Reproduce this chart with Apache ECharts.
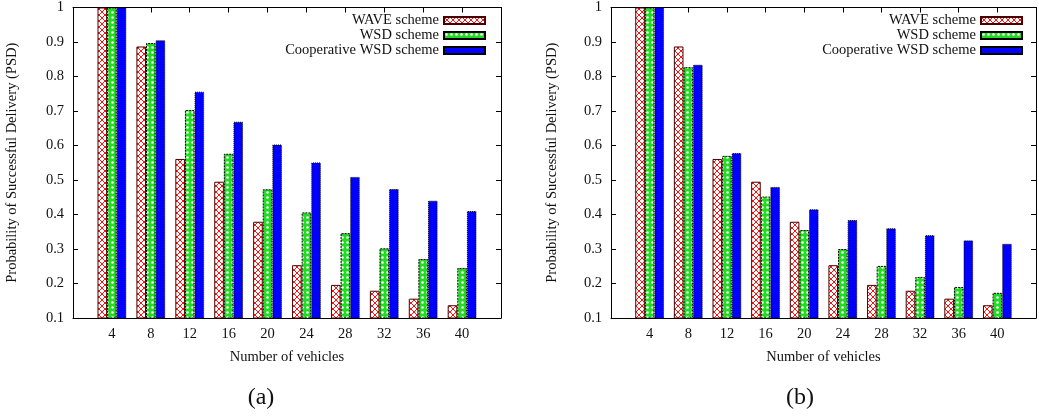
<!DOCTYPE html>
<html>
<head>
<meta charset="utf-8">
<title>Probability of Successful Delivery</title>
<script src="https://cdn.jsdelivr.net/npm/echarts@6/dist/echarts.min.js"></script>
<style>
  html, body { margin: 0; padding: 0; background: #fff; }
  #chart { width: 1039px; height: 416px; }
</style>
</head>
<body>
<div id="chart"></div>
<script>
// Number of vehicles on the x axis
const vehicles = [4, 8, 12, 16, 20, 24, 28, 32, 36, 40];

// Panel (a)
const waveA = [1.0, 0.887, 0.561, 0.495, 0.379, 0.253, 0.196, 0.179, 0.156, 0.137];
const wsdA  = [1.0, 0.897, 0.703, 0.576, 0.473, 0.406, 0.346, 0.302, 0.271, 0.245];
const coopA = [1.0, 0.905, 0.756, 0.669, 0.603, 0.551, 0.509, 0.474, 0.440, 0.410];

// Panel (b)
const waveB = [1.0, 0.887, 0.561, 0.495, 0.379, 0.253, 0.196, 0.179, 0.156, 0.137];
const wsdB  = [1.0, 0.827, 0.570, 0.452, 0.355, 0.300, 0.251, 0.219, 0.190, 0.173];
const coopB = [1.0, 0.834, 0.578, 0.480, 0.415, 0.384, 0.360, 0.340, 0.325, 0.315];

const seriesNames = ['WAVE scheme', 'WSD scheme', 'Cooperative WSD scheme'];
const panelLabels = ['(a)', '(b)'];
const yTitle = 'Probability of Successful Delivery (PSD)';
const xTitle = 'Number of vehicles';
const yMin = 0.1, yMax = 1, yStep = 0.1;

const FONT = '"Liberation Serif", "DejaVu Serif", serif';
const INK = '#111';

// Padded category list: empty slots at both ends give the half-gap margins
const categories = [''].concat(vehicles.map(String), ['']);
const pad = arr => ['-'].concat(arr, ['-']);

// Fill patterns
function makeTile(w, h, draw) {
  const c = document.createElement('canvas');
  c.width = w; c.height = h;
  draw(c.getContext('2d'), w, h);
  return c;
}
const crossTile = makeTile(6, 6, (ctx, w, h) => {
  ctx.fillStyle = '#ffffff';
  ctx.fillRect(0, 0, w, h);
  ctx.strokeStyle = '#ff1010';
  ctx.lineWidth = 1;
  ctx.beginPath();
  for (let k = -1; k <= 1; k++) {
    ctx.moveTo(k * w - 1, -1); ctx.lineTo(k * w + w + 1, h + 1);
    ctx.moveTo(k * w + w + 1, -1); ctx.lineTo(k * w - 1, h + 1);
  }
  ctx.stroke();
});
const dotTile = makeTile(5, 5, (ctx, w, h) => {
  ctx.fillStyle = '#22dc22';
  ctx.fillRect(0, 0, w, h);
  ctx.fillStyle = '#ffffff';
  ctx.beginPath();
  ctx.arc(2.5, 2.5, 1.3, 0, Math.PI * 2);
  ctx.fill();
});

const styles = [
  { color: { image: crossTile, repeat: 'repeat' }, borderColor: '#4a0000', borderWidth: 1, borderType: 'solid' },
  { color: { image: dotTile, repeat: 'repeat' }, borderColor: '#000', borderWidth: 1, borderType: [2, 1] },
  { color: '#0000ff', borderColor: '#000', borderWidth: 1, borderType: [1, 1] }
];

const panels = [
  { left: 73, width: 428, data: [waveA, wsdA, coopA], labelX: 261, nameGap: 53, legendRight: 553 },
  { left: 611, width: 426, data: [waveB, wsdB, coopB], labelX: 800, nameGap: 51, legendRight: 16 }
];

const grid = [], xAxis = [], yAxis = [], series = [], legend = [], graphic = [];

panels.forEach((p, i) => {
  grid.push({ left: p.left, top: 6, width: p.width, height: 312, containLabel: false });

  const axisLine = { show: true, lineStyle: { color: '#000', width: 1 } };
  const tick = { show: true, inside: true, length: 5, lineStyle: { color: '#000', width: 1 } };

  // bottom x axis
  xAxis.push({
    type: 'category', gridIndex: i, data: categories, boundaryGap: false,
    axisLine, axisTick: tick,
    axisLabel: { color: INK, fontFamily: FONT, fontSize: 14.5, margin: 9, interval: 0 },
    splitLine: { show: false },
    name: xTitle, nameLocation: 'middle', nameGap: 32,
    nameTextStyle: { color: INK, fontFamily: FONT, fontSize: 14.5 }
  });
  // top mirror
  xAxis.push({
    type: 'category', gridIndex: i, data: categories, boundaryGap: false, position: 'top',
    axisLine, axisTick: tick, axisLabel: { show: false }, splitLine: { show: false }
  });
  // left y axis
  yAxis.push({
    type: 'value', gridIndex: i, min: yMin, max: yMax, interval: yStep,
    axisLine, axisTick: tick, splitLine: { show: false },
    axisLabel: {
      color: INK, fontFamily: FONT, fontSize: 14.5, margin: 9,
      formatter: v => (Math.abs(v - 1) < 1e-9 ? '1' : v.toFixed(1))
    },
    name: yTitle, nameLocation: 'middle', nameGap: p.nameGap,
    nameTextStyle: { color: INK, fontFamily: FONT, fontSize: 14.5 }
  });
  // right mirror
  yAxis.push({
    type: 'value', gridIndex: i, min: yMin, max: yMax, interval: yStep, position: 'right',
    axisLine, axisTick: tick, splitLine: { show: false }, axisLabel: { show: false }
  });

  p.data.forEach((vals, s) => {
    series.push({
      name: seriesNames[s], type: 'bar',
      xAxisIndex: i * 2, yAxisIndex: i * 2,
      data: pad(vals), barWidth: 9.6, barGap: '0%',
      itemStyle: styles[s], emphasis: { disabled: true },
      animation: false, clip: true
    });
    legend.push({
      data: [seriesNames[s]], orient: 'vertical', align: 'right',
      right: p.legendRight, top: 13 + s * 15, padding: 0,
      icon: 'rect', itemWidth: 41, itemHeight: 7, selectedMode: false,
      textStyle: { color: INK, fontFamily: FONT, fontSize: 14.5, lineHeight: 14 }
    });
  });

  graphic.push({
    type: 'text', silent: true, x: p.labelX, y: 398,
    style: { text: panelLabels[i], fill: INK, font: '24px ' + FONT, textAlign: 'center', textVerticalAlign: 'middle' }
  });
});

const chart = echarts.init(document.getElementById('chart'), null, { renderer: 'canvas' });
chart.setOption({
  animation: false,
  backgroundColor: '#fff',
  grid, xAxis, yAxis, series, legend, graphic
});
</script>
</body>
</html>
